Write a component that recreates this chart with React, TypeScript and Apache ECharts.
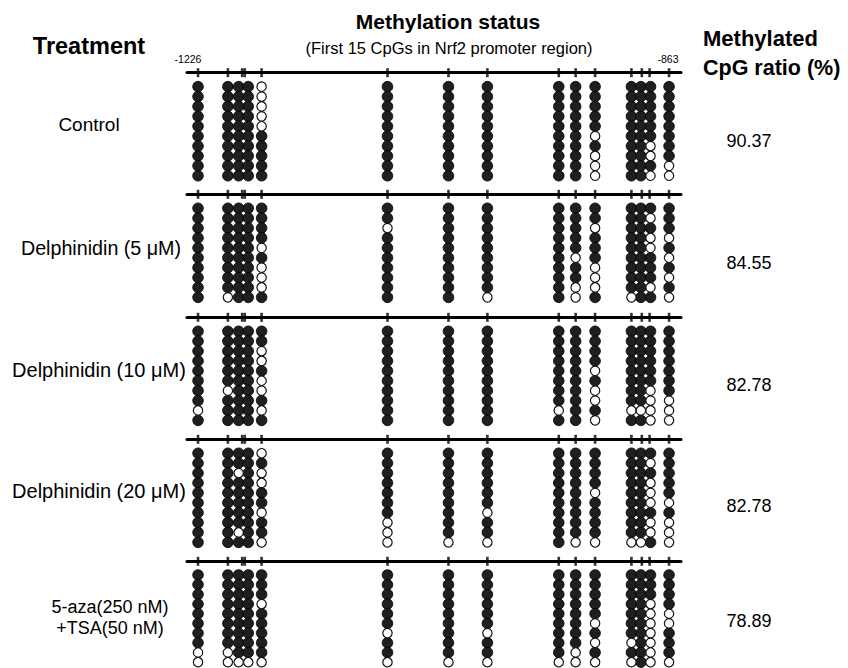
import React, { useEffect, useRef } from 'react';
import * as echarts from 'echarts';

// ---------- data ----------
const treatments = ['Control', 'Delphinidin (5 μM)', 'Delphinidin (10 μM)', 'Delphinidin (20 μM)', '5-aza(250 nM)\n+TSA(50 nM)'];
const ratios = ['90.37', '84.55', '82.78', '82.78', '78.89'];
// first 15 CpG sites of the Nrf2 promoter (bp relative to TSS)
const cpgPositions = [-1226, -1203, -1192, -1190, -1177, -1080, -1033, -1003, -948, -935, -920, -892, -884, -878, -863];
const regionStartLabel = '-1226';
const regionEndLabel = '-863';
// one string per CpG, clones top -> bottom; 1 = methylated, 0 = unmethylated
const controlClones = [
  '1111111111', '1111111111', '1111111111', '1111111111', '0000011111',
  '1111111111', '1111111111', '1111111111', '1111111111', '1111111111',
  '1111101000', '1111111111', '1111111111', '1111110010', '1111111100',
];
const delph5Clones = [
  '1111111111', '1111111110', '1111111111', '1111111111', '1111010001',
  '1101111111', '1111111111', '1111111110', '1111111111', '1111101100',
  '1101110001', '1111111110', '1111111111', '1010011101', '1110101010',
];
const delph10Clones = [
  '1111111101', '1111110111', '1111111111', '1111111111', '1100100101',
  '1111111111', '1111111111', '1111111111', '1111111101', '1111111111',
  '1111010010', '1111111101', '1111111101', '1111110000', '1111111000',
];
const delph20Clones = [
  '1111111111', '1111111111', '1101111101', '1111111111', '0100110110',
  '1111111000', '1111111110', '1111110110', '1111111111', '1111111110',
  '1111011110', '1111111110', '1111111110', '1010001001', '1111101000',
];
const azaTsaClones = [
  '1111111100', '1111111100', '1111111110', '1111111110', '1110111110',
  '1111110110', '1111111110', '1111110110', '1111111110', '1111111100',
  '1111101010', '1111111010', '1111111111', '1110000000', '1111001110',
];
const panels = [controlClones, delph5Clones, delph10Clones, delph20Clones, azaTsaClones];

// ---------- layout ----------
const W = 848, H = 668;
const XMIN = -1234.5, XMAX = -853.8;
const GRID_LEFT = 187, GRID_W = 494;
const LINE_Y = [72.7, 194.3, 317.3, 439.3, 561.3];
const ROW_PX = 9.9;
const YMIN = -0.41, YMAX = 10.6;
const DOT = 10.6;
const FONT = '"Liberation Sans", Arial, Helvetica, sans-serif';

function dodge(xs: number[], minGapPx: number): number[] {
  const pxPerUnit = GRID_W / (XMAX - XMIN);
  const gap = minGapPx / pxPerUnit;
  const out = xs.slice();
  for (let i = 0; i < out.length - 1; i++) {
    if (out[i + 1] - out[i] < gap) {
      const mid = (out[i] + out[i + 1]) / 2;
      out[i] = mid - gap / 2;
      out[i + 1] = mid + gap / 2;
    }
  }
  return out;
}

export default function App() {
  const ref = useRef<HTMLDivElement>(null);
  useEffect(() => {
    if (!ref.current) return;
    const chart = echarts.init(ref.current, undefined, { renderer: 'svg' });
    const dotX = dodge(cpgPositions, 9.6);
    const grids: any[] = [], xAxes: any[] = [], yAxes: any[] = [], series: any[] = [];
    panels.forEach((clones, p) => {
      grids.push({ left: GRID_LEFT, width: GRID_W, top: LINE_Y[p], height: (YMAX - YMIN) * ROW_PX });
      xAxes.push({
        gridIndex: p, type: 'value', min: XMIN, max: XMAX, position: 'top',
        axisLine: { show: true, onZero: false, lineStyle: { color: '#000', width: 3 } },
        axisTick: { show: false }, axisLabel: { show: false }, splitLine: { show: false },
      });
      yAxes.push({ gridIndex: p, type: 'value', min: YMIN, max: YMAX, inverse: true, show: false, splitLine: { show: false } });
      series.push({
        type: 'scatter', xAxisIndex: p, yAxisIndex: p, symbol: 'rect', symbolSize: [2.6, 9], clip: false,
        itemStyle: { color: '#000' }, silent: true, z: 3,
        data: cpgPositions.map((x) => [x, YMIN]),
      });
      const filled: number[][] = [], open: number[][] = [];
      clones.forEach((col, c) => {
        col.split('').forEach((ch, r) => {
          (ch === '1' ? filled : open).push([dotX[c], r + 1]);
        });
      });
      series.push({
        type: 'scatter', xAxisIndex: p, yAxisIndex: p, symbol: 'circle', symbolSize: DOT, clip: false,
        itemStyle: { color: '#1f1f1f', borderColor: '#000', borderWidth: 0.8, opacity: 1 }, data: filled,
      });
      series.push({
        type: 'scatter', xAxisIndex: p, yAxisIndex: p, symbol: 'circle', symbolSize: DOT - 1.2, clip: false,
        itemStyle: { color: '#fff', borderColor: '#111', borderWidth: 1.2, opacity: 1 }, data: open,
      });
    });

    const txt = (text: string, x: number, y: number, size: number, bold: boolean, align = 'center', lh?: number) => ({
      type: 'text', silent: true,
      style: {
        text, x, y, fill: '#000', fontSize: size, fontWeight: bold ? 'bold' : 'normal', fontFamily: FONT,
        textAlign: align, align, textVerticalAlign: 'middle', verticalAlign: 'middle', lineHeight: lh,
      },
    });
    const labelX = [89, 101, 99, 99, 110];
    const labelDy = [52, 54, 53, 52, 56];
    const labelSize = [19, 19.7, 20, 20, 18];
    const ratioDy = [68, 69, 68, 67, 60];
    const graphic: any[] = [
      txt('Treatment', 89, 46, 23.5, true),
      txt('Methylation status', 448, 21, 21, true),
      txt('(First 15 CpGs in Nrf2 promoter region)', 449, 48, 16.5, false),
      txt(regionStartLabel, 188, 59, 10.5, false),
      txt(regionEndLabel, 668, 59, 10.5, false),
      txt('Methylated', 703, 38, 22, true, 'left'),
      txt('CpG ratio (%)', 703, 68, 21.5, true, 'left'),
    ];
    treatments.forEach((t, p) => graphic.push(txt(t, labelX[p], LINE_Y[p] + labelDy[p], labelSize[p], false, 'center', 21)));
    ratios.forEach((r, p) => graphic.push(txt(r, 749, LINE_Y[p] + ratioDy[p], 18, false)));

    chart.setOption({
      animation: false,
      backgroundColor: '#fff',
      grid: grids, xAxis: xAxes, yAxis: yAxes, series, graphic,
    });
    return () => chart.dispose();
  }, []);
  return <div ref={ref} style={{ position: 'fixed', left: 0, top: 0, width: W, height: H }} />;
}
